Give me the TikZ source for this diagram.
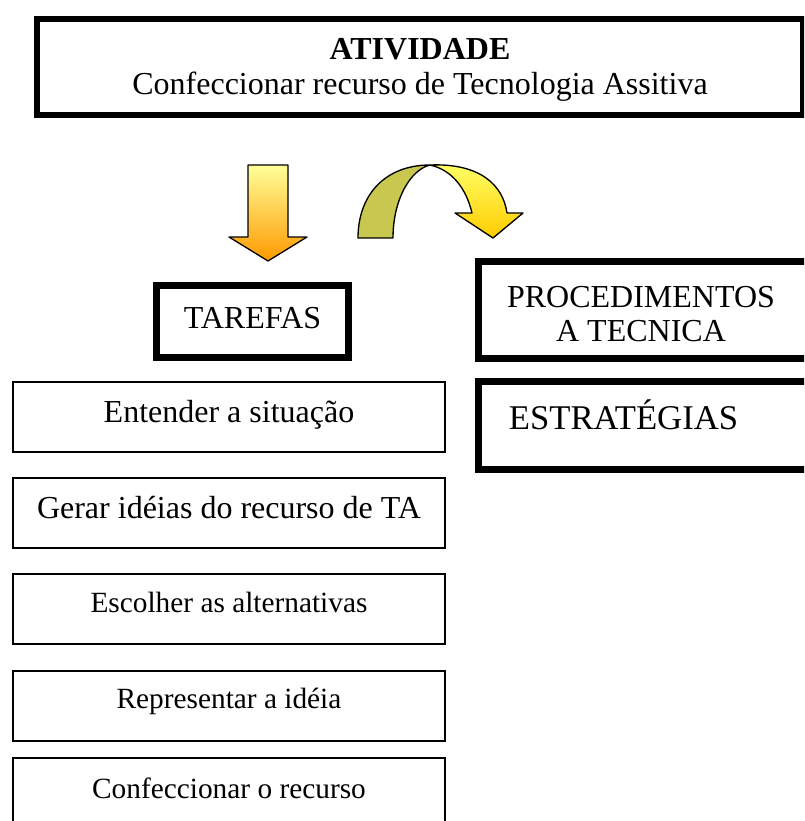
\documentclass[tikz,border=0pt]{standalone}
\usepackage{fontspec}
\setmainfont{Liberation Serif}

\definecolor{downtop}{HTML}{FFFF99}
\definecolor{downbot}{HTML}{FF9900}
\definecolor{bendback}{HTML}{C8C850}
\definecolor{bendtop}{HTML}{FFFF66}
\definecolor{bendbot}{HTML}{FFCC00}

\tikzset{
  heavybox/.style={draw, line width=5.25pt, inner sep=0pt},
  taskbox/.style={draw, line width=1.5pt, inner sep=0pt, minimum width=324pt, minimum height=52.5pt},
  bigtext/.style={font=\fontsize{24}{24}\selectfont, anchor=base, inner sep=0pt},
  smalltext/.style={font=\fontsize{22}{22}\selectfont, anchor=base, inner sep=0pt},
  blockarrow/.style={draw, line width=1pt, line join=round}
}

\begin{document}
\begin{tikzpicture}[x=0.75pt, y=-0.75pt]
    \useasboundingbox (0,0) rectangle (804,821);
    \clip (0,0) rectangle (804,821);

    % activity
    \node[draw, line width=4.5pt, inner sep=0pt, minimum width=574.5pt, minimum height=72pt] (ativ) at (420,67) {};
    \node[bigtext, font=\fontsize{24}{24}\selectfont\bfseries] (ativtitle) at (420,59) {ATIVIDADE};
    \node[bigtext] (ativtext) at (420,94) {Confeccionar recurso de Tecnologia Assitiva};

    % arrow down to the tasks
    \draw[blockarrow, top color=downtop, bottom color=downbot]
        (248,165) -- (288,165) -- (288,237) -- (307,237) -- (268,261) -- (229,237) -- (248,237) -- cycle;

    % bent arrow over to the procedures
    \draw[blockarrow, fill=bendback]
        (358,238) .. controls (358,195) and (385,165) .. (430,165)
        .. controls (410,170) and (393,200) .. (393,238) -- cycle;
    \draw[blockarrow, top color=bendtop, bottom color=bendbot]
        (430,165) .. controls (480,163) and (503,185) .. (507,213)
        -- (523,213) -- (493,238) -- (455,213) -- (472,213)
        .. controls (466,188) and (452,170) .. (430,165) -- cycle;

    % tasks
    \node[heavybox, minimum width=144pt, minimum height=54pt] (tarefas) at (252.5,321.5) {};
    \node[bigtext] (tarefastext) at (252.5,328) {TAREFAS};

    % procedures and strategies
    \node[heavybox, minimum width=247.5pt, minimum height=72.75pt] (proced) at (643.5,310) {};
    \node[bigtext] (procedtext) at (641,307) {PROCEDIMENTOS};
    \node[bigtext] (tecnica) at (641,341) {A TECNICA};

    \node[heavybox, minimum width=247.5pt, minimum height=66pt] (estrat) at (643.5,425.5) {};
    \node[bigtext, font=\fontsize{26}{26}\selectfont] (estrattext) at (623.5,429) {ESTRATÉGIAS};

    % list of tasks
    \node[taskbox] (entender) at (229,417) {};
    \node[bigtext] (entendertext) at (229,422) {Entender a situação};

    \node[taskbox] (gerar) at (229,513) {};
    \node[bigtext] (gerartext) at (229,518) {Gerar idéias do recurso de TA};

    \node[taskbox] (escolher) at (229,608.5) {};
    \node[smalltext] (escolhertext) at (229,612) {Escolher as alternativas};

    \node[taskbox] (representar) at (229,705.5) {};
    \node[smalltext] (representartext) at (229,708) {Representar a idéia};

    \node[taskbox] (confec) at (229,793) {};
    \node[smalltext] (confectext) at (229,798) {Confeccionar o recurso};

\end{tikzpicture}
\end{document}
